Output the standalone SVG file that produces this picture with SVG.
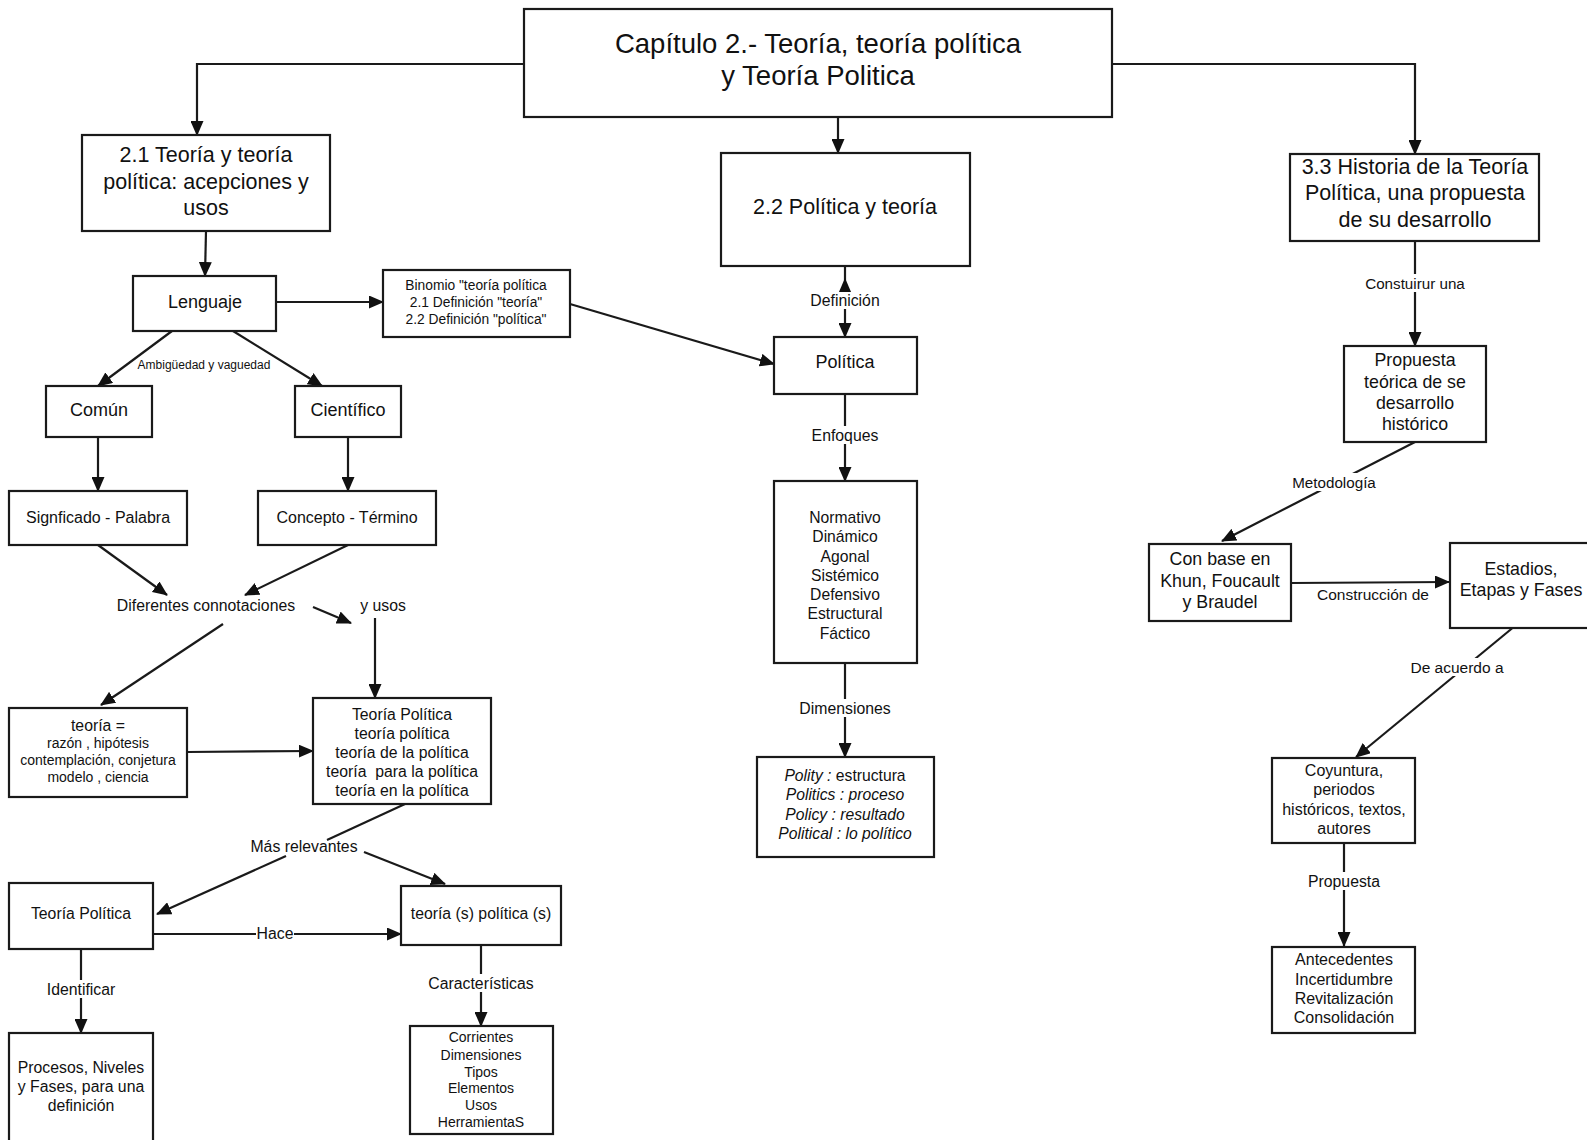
<svg xmlns="http://www.w3.org/2000/svg" width="1587" height="1140" viewBox="0 0 1587 1140">
<style>
  .box{fill:#fff;stroke:#1a1a1a;stroke-width:2.2}
  text{font-family:"Liberation Sans",Arial,sans-serif;fill:#111;text-anchor:middle;dominant-baseline:central}
  .c{fill:none;stroke:#1a1a1a;stroke-width:2.2}
  .a{marker-end:url(#arr)}
  .bg{fill:#fff;stroke:none}
  .l{font-size:15.8px}
  .it{font-style:italic}
</style>
<defs>
  <marker id="arr" markerUnits="userSpaceOnUse" markerWidth="15" markerHeight="13" refX="14" refY="6.5" orient="auto">
    <path d="M0,0 L15,6.5 L0,13 z" fill="#111"/>
  </marker>
</defs>
<rect width="1587" height="1140" fill="#fff"/>

<g id="connectors">
  <path class="c a" d="M524,64 H197 V135"/>
  <path class="c a" d="M1112,64 H1415 V154"/>
  <path class="c a" d="M838,117 V153"/>
  <path class="c a" d="M206,231 L205,276"/>
  <path class="c a" d="M276,302 H383"/>
  <path class="c a" d="M570,304 L774,364"/>
  <path class="c a" d="M845,266 V337"/>
  <polygon points="845,278 838.5,293 851.5,293" fill="#111"/>
  <rect class="bg" x="808" y="292" width="74" height="17"/>
  <text class="l" x="845" y="300">Definición</text>
  <path class="c a" d="M845,394 V481"/>
  <rect class="bg" x="806" y="426" width="78" height="18"/>
  <text class="l" x="845" y="435">Enfoques</text>
  <path class="c a" d="M845,663 V757"/>
  <rect class="bg" x="794" y="699" width="102" height="18"/>
  <text class="l" x="845" y="708">Dimensiones</text>

  <path class="c a" d="M172,331 L98,386"/>
  <path class="c a" d="M233,331 L322,386"/>
  <text x="204" y="365" style="font-size:12px">Ambigüedad y vaguedad</text>
  <path class="c a" d="M98,437 V491"/>
  <path class="c a" d="M348,437 V491"/>
  <path class="c a" d="M98,545 L167,595"/>
  <path class="c a" d="M348,545 L245,595"/>
  <text x="206" y="605" style="font-size:15.8px">Diferentes connotaciones</text>
  <path class="c a" d="M313,607 L351,623"/>
  <text x="383" y="605" style="font-size:15.8px">y usos</text>
  <path class="c a" d="M375,618 V698"/>
  <path class="c a" d="M223,624 L101,705"/>
  <path class="c a" d="M187,752 L313,751"/>
  <path class="c" d="M405,804 L327,840"/>
  <text x="304" y="846" style="font-size:15.8px">Más relevantes</text>
  <path class="c a" d="M286,856 L157,914"/>
  <path class="c a" d="M364,852 L445,884"/>
  <path class="c a" d="M153,934 H401"/>
  <rect class="bg" x="256" y="925" width="38" height="17"/>
  <text class="l" x="275" y="933">Hace</text>
  <path class="c a" d="M81,949 V1033"/>
  <rect class="bg" x="42" y="980" width="78" height="18"/>
  <text class="l" x="81" y="989">Identificar</text>
  <path class="c a" d="M481,945 V1026"/>
  <rect class="bg" x="424" y="974" width="114" height="18"/>
  <text class="l" x="481" y="983">Características</text>

  <path class="c a" d="M1415,241 V346"/>
  <rect class="bg" x="1360" y="274" width="110" height="18"/>
  <text x="1415" y="283" style="font-size:15.2px">Constuirur una</text>
  <path class="c a" d="M1415,442 L1222,541"/>
  <rect class="bg" x="1286" y="473" width="96" height="18"/>
  <text x="1334" y="482" style="font-size:15.2px">Metodología</text>
  <path class="c a" d="M1291,583 L1449,582"/>
  <text x="1373" y="594" style="font-size:15.5px">Construcción de</text>
  <path class="c a" d="M1521,621 L1356,757"/>
  <rect class="bg" x="1408" y="658" width="98" height="18"/>
  <text x="1457" y="667" style="font-size:15.5px">De acuerdo a</text>
  <path class="c a" d="M1344,843 V946"/>
  <rect class="bg" x="1304" y="872" width="80" height="18"/>
  <text class="l" x="1344" y="881">Propuesta</text>
</g>

<g id="title">
  <rect class="box" x="524" y="9" width="588" height="108"/>
  <text x="818" y="43" style="font-size:27.5px">Capítulo 2.- Teoría, teoría política</text>
  <text x="818" y="75" style="font-size:27.5px">y Teoría Politica</text>
</g>
<g id="n21">
  <rect class="box" x="82" y="135" width="248" height="96"/>
  <text x="206" y="155" style="font-size:21.5px">2.1 Teoría y teoría</text>
  <text x="206" y="182" style="font-size:21.5px">política: acepciones y</text>
  <text x="206" y="208" style="font-size:21.5px">usos</text>
</g>
<g id="n22">
  <rect class="box" x="721" y="153" width="249" height="113"/>
  <text x="845" y="207" style="font-size:21.5px">2.2 Política y teoría</text>
</g>
<g id="n33">
  <rect class="box" x="1290" y="154" width="249" height="87"/>
  <text x="1415" y="167" style="font-size:21.5px">3.3 Historia de la Teoría</text>
  <text x="1415" y="193" style="font-size:21.5px">Política, una propuesta</text>
  <text x="1415" y="220" style="font-size:21.5px">de su desarrollo</text>
</g>
<g id="lenguaje">
  <rect class="box" x="133" y="276" width="143" height="55"/>
  <text x="205" y="302" style="font-size:18px">Lenguaje</text>
</g>
<g id="binomio">
  <rect class="box" x="383" y="270" width="187" height="67"/>
  <text x="476" y="285" style="font-size:13.8px">Binomio "teoría política</text>
  <text x="476" y="302" style="font-size:13.8px">2.1 Definición "teoría"</text>
  <text x="476" y="319" style="font-size:13.8px">2.2 Definición "política"</text>
</g>
<g id="politica">
  <rect class="box" x="774" y="337" width="143" height="57"/>
  <text x="845" y="362" style="font-size:18px">Política</text>
</g>
<g id="enfoques">
  <rect class="box" x="774" y="481" width="143" height="182"/>
  <text x="845" y="517" style="font-size:15.7px">Normativo</text>
  <text x="845" y="536" style="font-size:15.7px">Dinámico</text>
  <text x="845" y="556" style="font-size:15.7px">Agonal</text>
  <text x="845" y="575" style="font-size:15.7px">Sistémico</text>
  <text x="845" y="594" style="font-size:15.7px">Defensivo</text>
  <text x="845" y="613" style="font-size:15.7px">Estructural</text>
  <text x="845" y="633" style="font-size:15.7px">Fáctico</text>
</g>
<g id="dimensiones">
  <rect class="box" x="757" y="757" width="177" height="100"/>
  <text x="845" y="775" style="font-size:15.7px"><tspan class="it">Polity :</tspan> estructura</text>
  <text x="845" y="794" class="it" style="font-size:15.7px">Politics : proceso</text>
  <text x="845" y="814" class="it" style="font-size:15.7px">Policy : resultado</text>
  <text x="845" y="833" class="it" style="font-size:15.7px">Political : lo político</text>
</g>
<g id="comun">
  <rect class="box" x="46" y="386" width="106" height="51"/>
  <text x="99" y="410" style="font-size:18px">Común</text>
</g>
<g id="cientifico">
  <rect class="box" x="295" y="386" width="106" height="51"/>
  <text x="348" y="410" style="font-size:18px">Científico</text>
</g>
<g id="signficado">
  <rect class="box" x="9" y="491" width="178" height="54"/>
  <text x="98" y="517" style="font-size:16px">Signficado - Palabra</text>
</g>
<g id="concepto">
  <rect class="box" x="258" y="491" width="178" height="54"/>
  <text x="347" y="517" style="font-size:16px">Concepto - Término</text>
</g>
<g id="teoria-eq">
  <rect class="box" x="9" y="708" width="178" height="89"/>
  <text x="98" y="725" style="font-size:15.8px">teoría =</text>
  <text x="98" y="743" style="font-size:14px">razón , hipótesis</text>
  <text x="98" y="760" style="font-size:14px">contemplación, conjetura</text>
  <text x="98" y="777" style="font-size:14px">modelo , ciencia</text>
</g>
<g id="tp-list">
  <rect class="box" x="313" y="698" width="178" height="106"/>
  <text x="402" y="714" style="font-size:15.8px">Teoría Política</text>
  <text x="402" y="733" style="font-size:15.8px">teoría política</text>
  <text x="402" y="752" style="font-size:15.8px">teoría de la política</text>
  <text x="402" y="771" style="font-size:15.8px">teoría&#160; para la política</text>
  <text x="402" y="790" style="font-size:15.8px">teoría en la política</text>
</g>
<g id="teoria-politica">
  <rect class="box" x="9" y="883" width="144" height="66"/>
  <text x="81" y="913" style="font-size:15.8px">Teoría Política</text>
</g>
<g id="teorias-politicas">
  <rect class="box" x="401" y="886" width="160" height="59"/>
  <text x="481" y="913" style="font-size:15.8px">teoría (s) política (s)</text>
</g>
<g id="procesos">
  <rect class="box" x="9" y="1033" width="144" height="112"/>
  <text x="81" y="1067" style="font-size:15.8px">Procesos, Niveles</text>
  <text x="81" y="1086" style="font-size:15.8px">y Fases, para una</text>
  <text x="81" y="1105" style="font-size:15.8px">definición</text>
</g>
<g id="corrientes">
  <rect class="box" x="410" y="1026" width="143" height="108"/>
  <text x="481" y="1037" style="font-size:14px">Corrientes</text>
  <text x="481" y="1055" style="font-size:14px">Dimensiones</text>
  <text x="481" y="1072" style="font-size:14px">Tipos</text>
  <text x="481" y="1088" style="font-size:14px">Elementos</text>
  <text x="481" y="1105" style="font-size:14px">Usos</text>
  <text x="481" y="1122" style="font-size:14px">HerramientaS</text>
</g>
<g id="propuesta-teorica">
  <rect class="box" x="1344" y="346" width="142" height="96"/>
  <text x="1415" y="360" style="font-size:17.8px">Propuesta</text>
  <text x="1415" y="382" style="font-size:17.8px">teórica de se</text>
  <text x="1415" y="403" style="font-size:17.8px">desarrollo</text>
  <text x="1415" y="424" style="font-size:17.8px">histórico</text>
</g>
<g id="con-base">
  <rect class="box" x="1149" y="544" width="142" height="77"/>
  <text x="1220" y="559" style="font-size:17.8px">Con base en</text>
  <text x="1220" y="581" style="font-size:17.8px">Khun, Foucault</text>
  <text x="1220" y="602" style="font-size:17.8px">y Braudel</text>
</g>
<g id="estadios">
  <rect class="box" x="1450" y="543" width="145" height="85"/>
  <text x="1521" y="569" style="font-size:17.8px">Estadios,</text>
  <text x="1521" y="590" style="font-size:17.8px">Etapas y Fases</text>
</g>
<g id="coyuntura">
  <rect class="box" x="1272" y="758" width="143" height="85"/>
  <text x="1344" y="770" style="font-size:16px">Coyuntura,</text>
  <text x="1344" y="789" style="font-size:16px">periodos</text>
  <text x="1344" y="809" style="font-size:16px">históricos, textos,</text>
  <text x="1344" y="828" style="font-size:16px">autores</text>
</g>
<g id="antecedentes">
  <rect class="box" x="1272" y="947" width="143" height="86"/>
  <text x="1344" y="959" style="font-size:16px">Antecedentes</text>
  <text x="1344" y="979" style="font-size:16px">Incertidumbre</text>
  <text x="1344" y="998" style="font-size:16px">Revitalización</text>
  <text x="1344" y="1017" style="font-size:16px">Consolidación</text>
</g>
</svg>
